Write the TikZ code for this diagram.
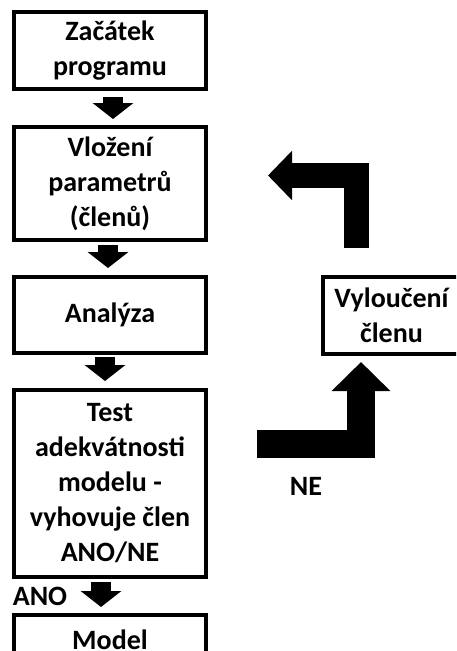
\documentclass[tikz,border=0pt]{standalone}
\usepackage{fontspec}
\setmainfont{Carlito}
\usetikzlibrary{arrows.meta,positioning}

\tikzstyle{stepbox}=[draw, line width=4pt, minimum width=192pt, align=center, inner sep=0pt,
  font=\bfseries\fontsize{28}{35}\selectfont]
\tikzstyle{lbl}=[font=\bfseries\fontsize{28}{35}\selectfont]
\tikzstyle{dep}=[line width=20pt, -{Triangle[width=40pt,length=16pt]}]
\tikzstyle{backdep}=[line width=25pt, -{Triangle[width=48pt,length=24pt]}]
\tikzstyle{outdep}=[line width=28pt, -{Triangle[width=57pt,length=29pt]}]

\begin{document}
\begin{tikzpicture}[x=1pt, y=-1pt]
      \path[use as bounding box] (0,0) rectangle (456,651);
      \clip (0,0) rectangle (456,651);
      % main column
      \node[stepbox, minimum height=77pt] (start) at (110,50.5) {Začátek\\programu};
      \node[stepbox, minimum height=113pt] (input) at (110,183.5) {Vložení\\parametrů\\(členů)};
      \node[stepbox, minimum height=76pt] (analysis) at (110,315) {Analýza};
      \node[stepbox, minimum height=187pt] (test) at (110,483.5)
        {Test\\adekvátnosti\\modelu -\\vyhovuje člen\\ANO/NE};
      \node[stepbox, anchor=north, text height=34pt, text depth=8pt] (model) at (110,613) {Model};
      % side branch
      \node[stepbox, minimum width=137pt, minimum height=77pt] (excl) at (391.5,315.5) {Vyloučení\\členu};
      \node[lbl] (ano) at (40,596.5) {ANO};
      \node[lbl] (ne) at (306,486) {NE};

      \draw[dep] ([xshift=3pt,yshift=-6pt]start.south) -- ([xshift=3pt,yshift=6pt]input.north);
      \draw[dep] ([xshift=-2pt,yshift=-3pt]input.south) -- ([xshift=-2pt,yshift=7pt]analysis.north);
      \draw[dep] ([xshift=-5pt,yshift=-2pt]analysis.south) -- ([xshift=-5pt,yshift=7pt]test.north);
      \draw[dep] ([xshift=-9pt,yshift=-3pt]test.south) -- ([xshift=-9pt,yshift=6pt]model.north);

      \coordinate (backstart) at (356.5,248);
      \coordinate (backend) at (268,175.5);
      \draw[backdep] (backstart) |- (backend);
      \coordinate (outstart) at (257,444);
      \coordinate (outend) at (361,362);
      \draw[outdep] (outstart) -| (outend);
    \end{tikzpicture}
\end{document}
